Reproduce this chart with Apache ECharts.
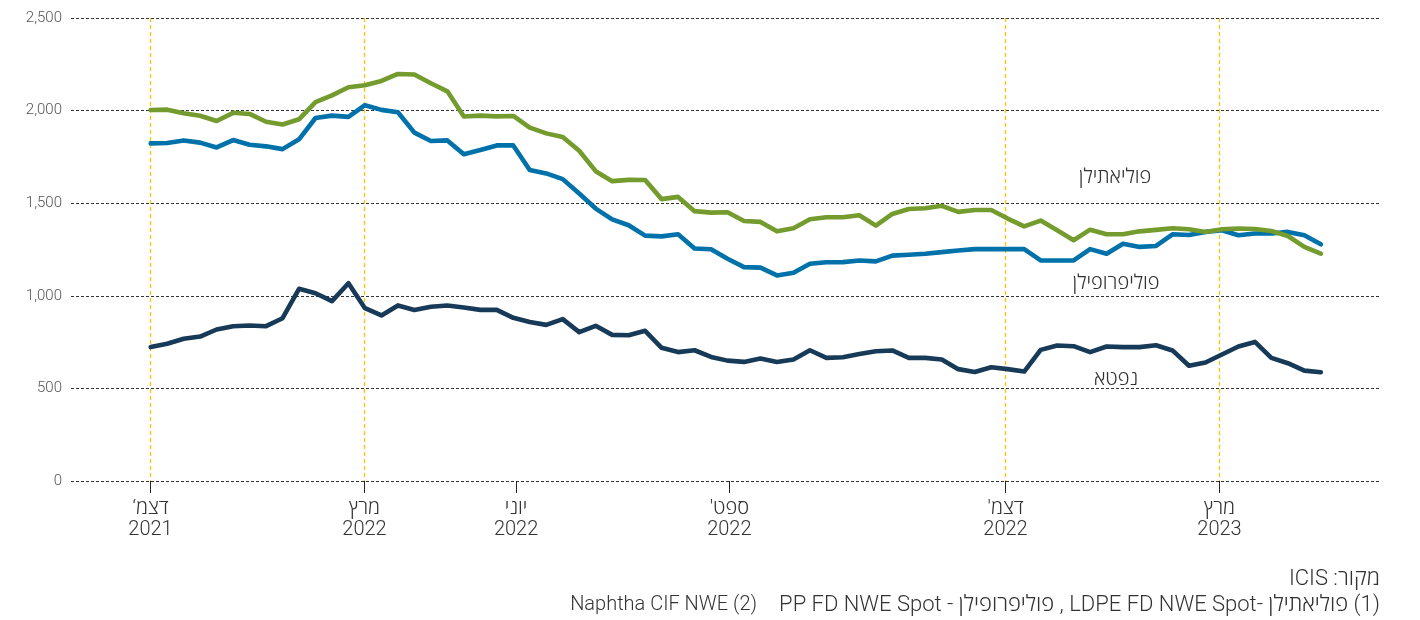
<!DOCTYPE html>
<html>
<head>
<meta charset="utf-8">
<script src="https://cdn.jsdelivr.net/npm/echarts@6/dist/echarts.min.js"></script>
<style>
html,body{margin:0;padding:0;background:#fff;}
#c{width:1420px;height:620px;}
</style>
</head>
<body>
<div id="c" dir="rtl"></div>
<script>
// Weekly prices, USD/ton (index 0 = Dec 2021)
const polyethylene = [2003,2005,1986,1972,1944,1988,1982,1940,1925,1953,2046,2082,2126,2137,2160,2198,2195,2148,2104,1968,1973,1969,1971,1908,1877,1857,1783,1673,1619,1626,1625,1522,1534,1457,1449,1451,1404,1399,1348,1365,1413,1424,1424,1435,1379,1442,1469,1473,1486,1453,1463,1463,1417,1375,1406,1354,1300,1357,1332,1332,1348,1356,1365,1359,1345,1359,1363,1361,1350,1323,1264,1228];
const polypropylene = [1823,1825,1839,1827,1801,1841,1816,1807,1792,1845,1960,1973,1966,2029,2004,1991,1881,1836,1839,1764,1787,1812,1812,1679,1661,1630,1552,1471,1413,1381,1325,1321,1332,1255,1251,1200,1155,1152,1110,1125,1173,1181,1182,1191,1186,1217,1222,1227,1236,1245,1252,1252,1252,1252,1191,1191,1191,1252,1227,1281,1264,1269,1332,1328,1345,1354,1327,1336,1336,1345,1327,1278];
const naphtha = [723,741,768,780,818,836,840,836,879,1038,1014,971,1068,933,894,948,923,941,948,937,924,924,881,858,843,874,804,838,789,787,811,719,696,706,670,650,643,661,643,656,706,665,668,686,701,705,665,665,656,604,589,614,604,591,708,732,728,696,726,723,723,733,705,622,640,683,726,751,665,636,596,587];

// x tick positions (in week-index units) and labels
const tickPos = [-0.012, 12.973, 22.17, 35.11, 51.866, 64.851];
const tickLabels = ["דצמ‘\n2021", "מרץ\n2022", "יוני\n2022", "ספט'\n2022", "דצמ'\n2022", "מרץ\n2023"];
const guidePos = [-0.012, 12.973, 51.866, 64.851];

const yTicks = [0, 500, 1000, 1500, 2000, 2500];

const FONT = 'Roboto, "Open Sans", "Noto Sans", sans-serif';
const X_MIN = -4.836, X_MAX = 74.59;

function toPairs(arr){ return arr.map((v,i)=>[i,v]); }

const chart = echarts.init(document.getElementById('c'), null, {renderer:'canvas'});

function txt(text, x, y, size, align){
  return {
    type:'text', x:x, y:y, silent:true,
    style:{
      text:text, fill:'#333',
      font:'300 ' + size + 'px ' + FONT,
      align:align, verticalAlign:'middle',
      textAlign:align, textVerticalAlign:'middle'
    }
  };
}

chart.setOption({
  animation:false,
  backgroundColor:'#fff',
  grid:{left:71, right:40, top:18, bottom:139},
  xAxis:[
    {
      type:'value', min:X_MIN, max:X_MAX,
      splitLine:{show:false},
      axisLine:{show:false},
      axisTick:{show:true, customValues:tickPos, length:12, lineStyle:{color:'#222', width:1}},
      axisLabel:{
        customValues:tickPos,
        formatter:function(v){
          const i = tickPos.findIndex(p=>Math.abs(p-v)<0.01);
          return i>=0 ? tickLabels[i] : '';
        },
        margin:17, fontSize:20, lineHeight:21, color:'#333',
        fontFamily:FONT, fontWeight:300
      }
    },
    {
      type:'value', min:X_MIN, max:X_MAX, position:'bottom', z:1,
      axisLine:{show:false},
      axisLabel:{show:false},
      axisTick:{show:false, customValues:guidePos},
      splitLine:{show:true, lineStyle:{color:'#FFC400', type:[4,3], width:1.3}}
    }
  ],
  yAxis:{
    type:'value', min:yTicks[0], max:yTicks[yTicks.length-1], interval:500,
    axisLine:{show:false}, axisTick:{show:false},
    splitLine:{lineStyle:{color:'#333', type:[3,2], width:1}},
    axisLabel:{
      margin:9, fontSize:15, color:'#555', fontFamily:FONT, fontWeight:300,
      formatter:function(v){ return v.toLocaleString('en-US'); }
    }
  },
  series:[
    {
      name:'נפטא', type:'line', data:toPairs(naphtha), showSymbol:false, z:3,
      lineStyle:{width:4.6, color:'#173A58', cap:'round', join:'round'},
      itemStyle:{color:'#173A58'}
    },
    {
      name:'פוליפרופילן', type:'line', data:toPairs(polypropylene), showSymbol:false, z:4,
      lineStyle:{width:4.6, color:'#0071A9', cap:'round', join:'round'},
      itemStyle:{color:'#0071A9'}
    },
    {
      name:'פוליאתילן', type:'line', data:toPairs(polyethylene), showSymbol:false, z:5,
      lineStyle:{width:4.6, color:'#749B2E', cap:'round', join:'round'},
      itemStyle:{color:'#749B2E'}
    }
  ],
  graphic:[
    txt('פוליאתילן', 1115, 178, 20, 'center'),
    txt('פוליפרופילן', 1116, 284, 20, 'center'),
    txt('נפטא', 1116, 380, 20, 'center'),
    txt('מקור: ICIS', 1380, 579, 22, 'right'),
    txt('(1) פוליאתילן -LDPE FD NWE Spot , פוליפרופילן - PP FD NWE Spot', 1380, 605, 22, 'right'),
    txt('(2) Naphtha CIF NWE', 757, 605, 20, 'right')
  ]
});
</script>
</body>
</html>
